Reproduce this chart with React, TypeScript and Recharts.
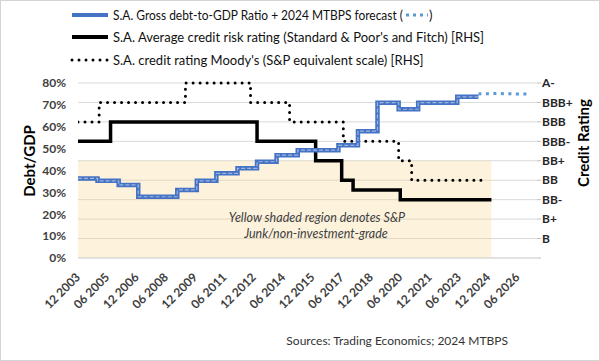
import React from "react";
import {
  ComposedChart,
  Line,
  XAxis,
  YAxis,
  CartesianGrid,
  ReferenceArea,
} from "recharts";

// ---- Data ----
const debtDates = [
  "2003-12", "2004-12", "2006-01", "2007-01", "2009-01", "2010-01", "2011-01",
  "2012-02", "2013-02", "2014-02", "2015-03", "2017-04", "2018-04", "2019-04",
  "2020-05", "2021-05", "2023-05", "2024-06",
];
const debtValues = [
  36.4, 35.3, 33.4, 28.0, 31.1, 35.3, 38.7, 41.0, 44.0, 47.0, 49.3, 51.5, 58.0,
  71.0, 68.0, 71.0, 73.7, 73.7,
];
const forecastDates = ["2024-06", "2025-06", "2026-06", "2027-02"];
const forecastValues = [75.0, 75.2, 75.0, 74.9];

const spFitchDates = [
  "2003-12", "2005-08", "2013-02", "2016-02", "2017-06", "2018-01", "2020-06", "2025-02",
];
const spFitchValues = [6, 7, 6, 5, 4, 3.5, 3, 3];

const moodysDates = [
  "2003-12", "2005-01", "2009-06", "2012-10", "2014-10", "2017-07", "2020-05",
  "2021-01", "2024-09",
];
const moodysValues = [7, 8, 9, 8, 7, 6, 5, 4, 4];

const ratingLabels = ["", "B", "B+", "BB-", "BB", "BB+", "BBB-", "BBB", "BBB+", "A-"];
const junkThreshold = 5; // BB+
const shadeEndDate = "2025-02";

const xTickLabels = [
  "12 2003", "06 2005", "12 2006", "06 2008", "12 2009", "06 2011", "12 2012",
  "06 2014", "12 2015", "06 2017", "12 2018", "06 2020", "12 2021", "06 2023",
  "12 2024", "06 2026",
];
const xDomainEnd = "2027-06";
const leftTicks = [0, 10, 20, 30, 40, 50, 60, 70, 80];

// ---- helpers ----
const toMonths = (d: string) => {
  const [y, m] = d.split("-").map(Number);
  return (y - 2003) * 12 + (m - 12);
};
const labelToMonths = (l: string) => {
  const [m, y] = l.split(" ");
  return toMonths(`${y}-${m}`);
};
const series = (dates: string[], values: number[]) =>
  dates.map((d, i) => ({ m: toMonths(d), v: values[i] }));

const debtData = series(debtDates, debtValues);
const forecastData = series(forecastDates, forecastValues);
const spData = series(spFitchDates, spFitchValues);
const moodysData = series(moodysDates, moodysValues);
const xTicks = xTickLabels.map(labelToMonths);
const tickLabelByMonth: Record<number, string> = {};
xTickLabels.forEach((l) => (tickLabelByMonth[labelToMonths(l)] = l));

const FONT = "Lato, 'Open Sans', sans-serif";

const XTick = (props: any) => {
  const { x, y, payload } = props;
  const ax = x + 3;
  const ay = y + 12;
  return (
    <text
      x={ax}
      y={ay}
      textAnchor="end"
      transform={`rotate(-45, ${ax}, ${ay})`}
      fontFamily={FONT}
      fontSize={12}
      fontWeight={700}
      fill="#404040"
    >
      {tickLabelByMonth[payload.value]}
    </text>
  );
};

export default function App() {
  return (
    <div
      style={{
        position: "absolute",
        left: 0,
        top: 0,
        width: 600,
        height: 361,
        background: "#fff",
        border: "1px solid #d4d4d4",
        boxSizing: "border-box",
        overflow: "hidden",
      }}
    >
      <div style={{ position: "absolute", left: -1, top: -1 }}>
        <ComposedChart
          width={600}
          height={361}
          margin={{ top: 83, right: 3, bottom: 43, left: 18 }}
        >
          <XAxis
            xAxisId="x"
            dataKey="m"
            type="number"
            domain={[0, toMonths(xDomainEnd)]}
            ticks={xTicks}
            interval={0}
            tick={<XTick />}
            tickLine={false}
            axisLine={{ stroke: "#d9d9d9" }}
            height={60}
            allowDataOverflow
          />
          <YAxis
            yAxisId="left"
            orientation="left"
            domain={[0, 80]}
            ticks={leftTicks}
            interval={0}
            tickFormatter={(v: number) => `${v}%`}
            tick={{ fontFamily: FONT, fontSize: 12, fontWeight: 700, fill: "#404040" }}
            tickLine={false}
            axisLine={false}
            width={60}
            tickMargin={6}
          />
          <YAxis
            yAxisId="right"
            orientation="right"
            domain={[0, 9]}
            ticks={[0, 1, 2, 3, 4, 5, 6, 7, 8, 9]}
            interval={0}
            tickFormatter={(v: number) => ratingLabels[v]}
            tick={{ fontFamily: FONT, fontSize: 12, fontWeight: 700, fill: "#262626", textAnchor: "start" }}
            tickLine={{ stroke: "#bfbfbf" }}
            tickSize={4}
            tickMargin={1}
            axisLine={false}
            width={60}
          />
          <CartesianGrid
            xAxisId="x"
            yAxisId="right"
            vertical={false}
            stroke="#d9d9d9"
          />
          <ReferenceArea
            xAxisId="x"
            yAxisId="right"
            x1={0}
            x2={toMonths(shadeEndDate)}
            y1={0}
            y2={junkThreshold}
            fill="#f7d78e"
            fillOpacity={0.3}
            stroke="none"
          />
          <Line
            xAxisId="x"
            yAxisId="right"
            data={spData}
            dataKey="v"
            type="stepAfter"
            stroke="#000"
            strokeWidth={3.5}
            dot={false}
            isAnimationActive={false}
          />
          <Line
            xAxisId="x"
            yAxisId="right"
            data={moodysData}
            dataKey="v"
            type="stepAfter"
            stroke="#000"
            strokeWidth={3}
            strokeDasharray="0 7"
            strokeLinecap="round"
            dot={false}
            isAnimationActive={false}
          />
          <Line
            xAxisId="x"
            yAxisId="left"
            data={debtData}
            dataKey="v"
            type="stepAfter"
            stroke="#4472c4"
            strokeWidth={4.5}
            dot={false}
            isAnimationActive={false}
          />
          <Line
            xAxisId="x"
            yAxisId="left"
            data={debtData}
            dataKey="v"
            type="stepAfter"
            stroke="#9db4de"
            strokeWidth={1.2}
            strokeDasharray="4 2"
            dot={false}
            isAnimationActive={false}
          />
          <Line
            xAxisId="x"
            yAxisId="left"
            data={forecastData}
            dataKey="v"
            type="linear"
            stroke="#5b9bd5"
            strokeWidth={3}
            strokeDasharray="3 4.5"
            dot={false}
            isAnimationActive={false}
          />
        </ComposedChart>
      </div>
      <svg
        width={600}
        height={361}
        style={{ position: "absolute", left: -1, top: -1, pointerEvents: "none" }}
      >
        {/* Legend */}
        <g fontFamily={FONT} fontSize={13} fill="#111">
          <line x1={72} x2={108} y1={15} y2={15} stroke="#4472c4" strokeWidth={4} />
          <text
            x={113}
            y={15}
            dominantBaseline="central"
            textLength={290}
            lengthAdjust="spacingAndGlyphs"
          >
            S.A. Gross debt-to-GDP Ratio + 2024 MTBPS forecast (
          </text>
          <line
            x1={406}
            x2={428}
            y1={15}
            y2={15}
            stroke="#5b9bd5"
            strokeWidth={3}
            strokeDasharray="3 4"
          />
          <text x={429} y={15} dominantBaseline="central">
            )
          </text>
          <line x1={72} x2={108} y1={37} y2={37} stroke="#000" strokeWidth={4} />
          <text x={113} y={37} dominantBaseline="central">
            S.A. Average credit risk rating (Standard &amp; Poor's and Fitch) [RHS]
          </text>
          <line
            x1={72}
            x2={108}
            y1={60}
            y2={60}
            stroke="#000"
            strokeWidth={3}
            strokeDasharray="0 7"
            strokeLinecap="round"
          />
          <text x={113} y={60} dominantBaseline="central">
            S.A. credit rating Moody's (S&amp;P equivalent scale) [RHS]
          </text>
        </g>
        {/* Axis titles */}
        <text
          x={29}
          y={161}
          transform="rotate(-90, 29, 161)"
          textAnchor="middle"
          dominantBaseline="central"
          fontFamily={FONT}
          fontSize={15}
          fontWeight={700}
          fill="#000"
        >
          Debt/GDP
        </text>
        <text
          x={583}
          y={143}
          transform="rotate(-90, 583, 143)"
          textAnchor="middle"
          dominantBaseline="central"
          fontFamily={FONT}
          fontSize={15}
          fontWeight={700}
          fill="#000"
        >
          Credit Rating
        </text>
        {/* Note inside shaded region */}
        <g fontFamily={FONT} fontSize={12.5} fontStyle="italic" fill="#404040" textAnchor="middle">
          <text x={317} y={217} dominantBaseline="central">
            Yellow shaded region denotes S&amp;P
          </text>
          <text x={316} y={233} dominantBaseline="central">
            Junk/non-investment-grade
          </text>
        </g>
        {/* Source */}
        <text
          x={508}
          y={340}
          textAnchor="end"
          dominantBaseline="central"
          fontFamily={FONT}
          fontSize={12}
          fill="#333"
        >
          Sources: Trading Economics; 2024 MTBPS
        </text>
      </svg>
    </div>
  );
}
